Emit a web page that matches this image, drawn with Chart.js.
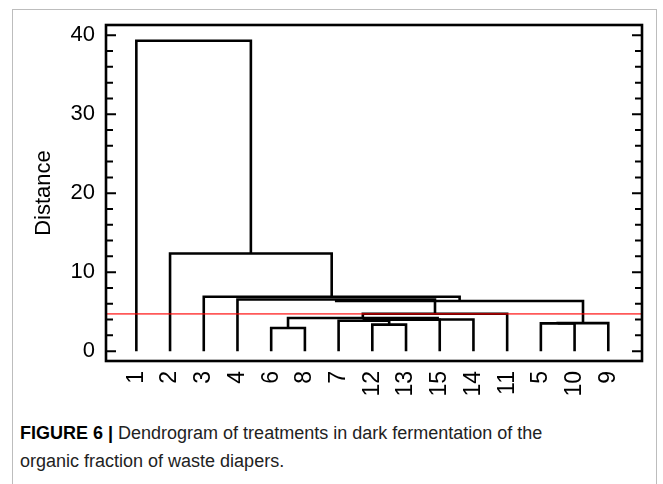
<!DOCTYPE html>
<html>
<head>
<meta charset="utf-8">
<title>Dendrogram</title>
<style>
  body { margin: 0; background: #fff; }
  #fig { position: relative; width: 663px; height: 484px; overflow: hidden; font-family: "Liberation Sans", Arial, sans-serif; }
  #frame { position: absolute; left: 12px; top: 9px; width: 643px; height: 500px; border: 1px solid #bdbdbd; }
  #chartBox { position: absolute; left: 0; top: 0; width: 663px; height: 405px; }
  #cap { position: absolute; left: 20px; top: 419px; width: 635px; font-size: 18px; line-height: 28px; color: #222; }
  #cap b { color: #000; }
</style>
<script src="https://cdn.jsdelivr.net/npm/chart.js"></script>
</head>
<body>
<div id="fig">
  <div id="frame"></div>
  <div id="chartBox"><canvas id="myChart" width="663" height="405"></canvas></div>
  <div id="cap"><b>FIGURE 6 |</b> Dendrogram of treatments in dark fermentation of the<br>organic fraction of waste diapers.</div>
</div>

<script>
// leaf order along the x axis
const leafLabels = ['1', '2', '3', '4', '6', '8', '7', '12', '13', '15', '14', '11', '5', '10', '9'];
// merges, in order: cluster Cn is the n-th merge
const mergeLeft   = ['6', '12', '5', 'C3', '7', 'C5', 'C6', 'C1', 'C8', '4', 'C10', '3', '2', '1'];
const mergeRight  = ['8', '13', '10', '9', 'C2', '15', '14', 'C7', '11', 'C9', 'C4', 'C11', 'C12', 'C13'];
const mergeHeight = [2.93, 3.36, 3.52, 3.55, 3.84, 3.97, 4.0, 4.2, 4.73, 6.53, 6.35, 6.88, 12.36, 39.3];
const cutHeight = 4.72;
const yTickValues = [0, 10, 20, 30, 40];

// position and height of every node
const nodeX = {}, nodeH = {};
leafLabels.forEach((l, i) => { nodeX[l] = i + 1; nodeH[l] = 0; });

const datasets = [];
mergeLeft.forEach((l, i) => {
  const r = mergeRight[i], h = mergeHeight[i];
  datasets.push({
    data: [
      { x: nodeX[l], y: nodeH[l] },
      { x: nodeX[l], y: h },
      { x: nodeX[r], y: h },
      { x: nodeX[r], y: nodeH[r] }
    ],
    borderColor: '#000',
    borderWidth: 2.6,
    borderJoinStyle: 'miter',
    pointRadius: 0,
    tension: 0,
    order: 1
  });
  const id = 'C' + (i + 1);
  nodeX[id] = (nodeX[l] + nodeX[r]) / 2;
  nodeH[id] = h;
});

// cut line
datasets.push({
  data: [{ x: 0.1, y: cutHeight }, { x: 16, y: cutHeight }],
  borderColor: 'rgba(255, 0, 0, 0.65)',
  borderWidth: 1.6,
  pointRadius: 0,
  order: 0
});

// box round the plot and inward ticks on both sides
const frameTicks = {
  id: 'frameTicks',
  afterDatasetsDraw(chart) {
    const { ctx, chartArea: a, scales: { y } } = chart;
    ctx.save();
    ctx.strokeStyle = '#000';
    ctx.lineWidth = 2;
    for (let v = 0; v <= 40; v += 2) {
      const py = y.getPixelForValue(v);
      const len = v % 10 === 0 ? 10 : 7;
      ctx.beginPath();
      ctx.moveTo(a.left, py); ctx.lineTo(a.left + len, py);
      ctx.moveTo(a.right - len, py); ctx.lineTo(a.right, py);
      ctx.stroke();
    }
    ctx.lineWidth = 2.6;
    ctx.strokeRect(a.left, a.top, a.right - a.left, a.bottom - a.top);
    ctx.restore();
  }
};

Chart.defaults.font.family = '"Liberation Sans", Arial, sans-serif';
Chart.defaults.color = '#000';

const ctx = document.getElementById('myChart');

new Chart(ctx, {
  type: 'line',
  data: { datasets: datasets },
  options: {
    responsive: false,
    animation: false,
    layout: { padding: { top: 25, right: 21, left: 0, bottom: 0 } },
    plugins: { legend: { display: false }, tooltip: { enabled: false } },
    scales: {
      x: {
        type: 'linear',
        min: 0.1,
        max: 16,
        grid: { display: false, drawTicks: false },
        border: { display: false },
        afterBuildTicks: s => { s.ticks = leafLabels.map((_, i) => ({ value: i + 1 })); },
        afterFit: s => { s.height = 44; },
        ticks: {
          autoSkip: false,
          minRotation: 90,
          maxRotation: 90,
          padding: 10,
          font: { size: 23 },
          callback: (v, i) => leafLabels[i]
        }
      },
      y: {
        type: 'linear',
        min: -1.25,
        max: 41.3,
        grid: { display: false, drawTicks: false },
        border: { display: false },
        afterBuildTicks: s => { s.ticks = yTickValues.map(v => ({ value: v })); },
        afterFit: s => { s.width = 106; },
        ticks: { padding: 11, font: { size: 22 } },
        title: {
          display: true,
          text: 'Distance',
          font: { size: 22 },
          padding: { top: 31, bottom: 0 }
        }
      }
    }
  },
  plugins: [frameTicks]
});
</script>
</body>
</html>
